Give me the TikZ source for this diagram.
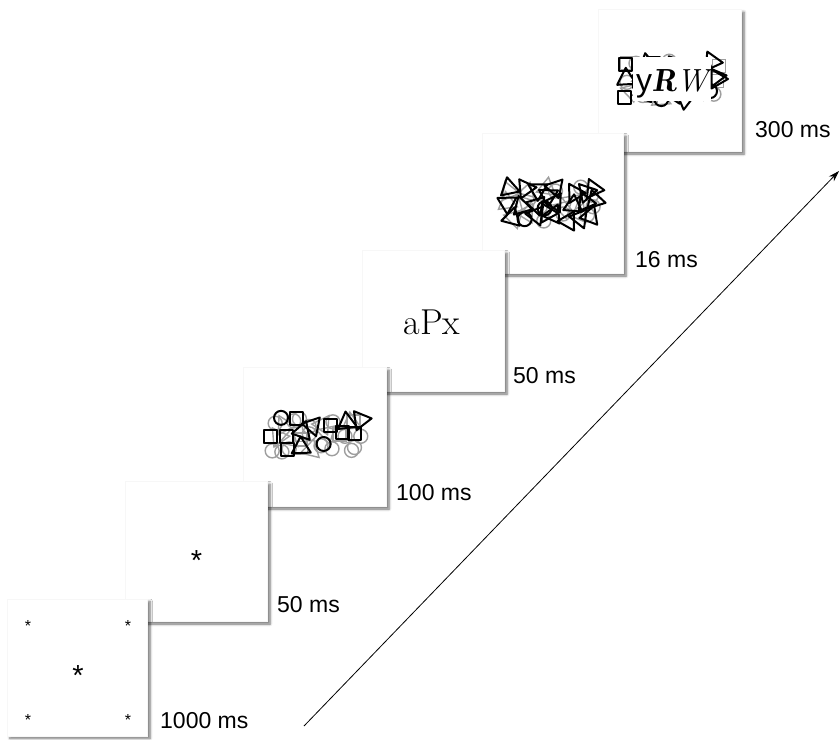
\documentclass[tikz,border=0pt]{standalone}
\usepackage{fontspec}
\setmainfont{Liberation Sans}
\usetikzlibrary{arrows.meta,shadows.blur}
\newcommand\mtri[3]{\draw[shift={(#1,#2)},rotate=#3] (90:11)--(210:11)--(330:11)--cycle;}
\newcommand\msq[3]{\draw[shift={(#1,#2)}] (-6.5,-6.5) rectangle (6.5,6.5);}
\newcommand\mcirc[3]{\draw (#1,#2) circle[radius=7pt];}
% grid-jittered mask: #1 cx, #2 cy, #3 cols, #4 rows, #5 style, #6 types list, #7 number of types, #8 half width, #9 half height
\newcommand\maskgrid[9]{%
  \foreach \ci in {1,...,#3}{%
    \foreach \ri in {1,...,#4}{%
      \pgfmathsetmacro\px{#1-#8+(\ci-0.5)*2*#8/#3+10*(rnd-0.5)}%
      \pgfmathsetmacro\py{#2-#9+(\ri-0.5)*2*#9/#4+9*(rnd-0.5)}%
      \pgfmathsetmacro\rr{360*rnd}%
      \pgfmathtruncatemacro\ti{random(#7)}%
      \pgfmathtruncatemacro\tt{{#6}[\ti-1]}%
      \begin{scope}[#5]
        \ifcase\tt\or\mcirc{\px}{\py}{\rr}\or\msq{\px}{\py}{\rr}\or\mtri{\px}{\py}{\rr}\fi
      \end{scope}
    }%
  }%
}
\begin{document}
\begin{tikzpicture}[x=1pt,y=-1pt,
  panel/.style={draw=gray!6, fill=white, line width=0.4pt, inner sep=0pt,
    blur shadow={shadow xshift=2.5pt, shadow yshift=-2.5pt, shadow blur radius=2.5pt, shadow blur steps=6, shadow opacity=55}},
  lbl/.style={font=\fontsize{23}{23}\selectfont, anchor=base west, inner sep=0pt},
  star/.style={anchor=base, inner sep=0pt, font=\fontsize{29}{29}\selectfont},
  smallstar/.style={anchor=base, inner sep=0pt, font=\fontsize{16}{16}\selectfont},
  gmask/.style={draw=black!38, line width=1.4pt},
  bmask/.style={draw=black, line width=2pt, line join=round}]
\useasboundingbox (0,0) rectangle (840,739);

% arrow
\coordinate (a0) at (304,726);
\coordinate (a1) at (839,171);
\draw[line width=0.8pt, -{Stealth[length=11pt,width=7pt]}] (a0) -- (a1);

% panel 6
\node[panel, minimum width=143pt, minimum height=142pt] (p6) at (670,80.5) {};
\pgfmathsetseed{61}
\maskgrid{671}{80}{8}{3}{gmask}{1,1,2,3}{4}{50}{22}
\maskgrid{671}{80}{7}{3}{bmask}{2,3,3,1}{4}{50}{22}
\node[fill=white, minimum width=78pt, minimum height=44pt, inner sep=0pt] (w6) at (672,79) {};
\node[inner sep=0pt, anchor=base] (t6) at (672,91) {\fontsize{32}{32}\selectfont y{\fontfamily{lmr}\bfseries\itshape R}{\fontfamily{lmr}\itshape W}};
\begin{scope}[bmask]\mtri{717}{79}{-30}\end{scope}
\node[lbl] (l6) at (755,137) {300 ms};

% panel 5
\node[panel, minimum width=141pt, minimum height=140pt] (p5) at (553,203.5) {};
\pgfmathsetseed{52}
\maskgrid{552}{204}{6}{3}{gmask}{1,1,3}{3}{48}{19}
\maskgrid{552}{204}{8}{3}{bmask}{3,3,3,3,3,3,1}{7}{48}{19}
\node[lbl] (l5) at (635,267) {16 ms};

% panel 4
\node[panel, minimum width=142pt, minimum height=141pt] (p4) at (433.5,321) {};
\node[inner sep=0pt] (t4) at (432,322) {\fontfamily{lmr}\selectfont\fontsize{36}{36}\selectfont aPx};
\node[lbl] (l4) at (513,383) {50 ms};

% panel 3
\node[panel, minimum width=143pt, minimum height=139pt] (p3) at (315,437) {};
\pgfmathsetseed{33}
\maskgrid{314}{435}{9}{3}{gmask}{1,1,1,2,3}{5}{49}{19}
\maskgrid{314}{435}{7}{3}{bmask}{1,2,2,3,3,0,0}{7}{49}{19}
\node[lbl] (l3) at (396,500) {100 ms};

% panel 2
\node[panel, minimum width=142pt, minimum height=140pt] (p2) at (196.5,551.5) {};
\node[star] (s2) at (196.5,570) {*};
\node[lbl] (l2) at (277,612) {50 ms};

% panel 1
\node[panel, minimum width=140pt, minimum height=137pt] (p1) at (77.5,667.5) {};
\node[star] (s1c) at (78,685) {*};
\node[smallstar] (s1a) at (28,631) {*};
\node[smallstar] (s1b) at (128,631) {*};
\node[smallstar] (s1d) at (28,725) {*};
\node[smallstar] (s1e) at (128,725) {*};
\node[lbl] (l1) at (160,728) {1000 ms};
\end{tikzpicture}
\end{document}
